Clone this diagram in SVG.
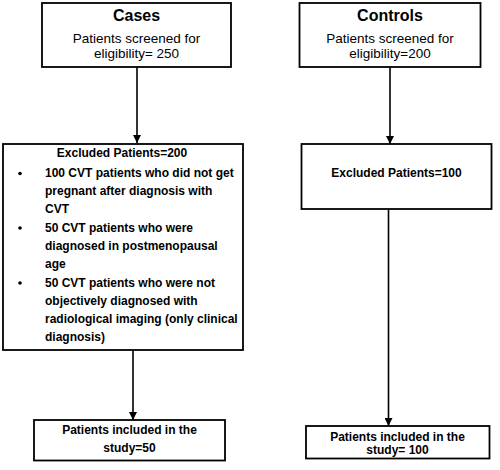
<svg xmlns="http://www.w3.org/2000/svg" width="500" height="470" viewBox="0 0 500 470">
<defs>
<style>
.box{fill:#fff;stroke:#000;stroke-width:1.8}
.t{font-family:"Liberation Sans",Arial,sans-serif;fill:#000}
.h{font-size:16px;font-weight:bold}
.r{font-size:13.5px}
.b{font-size:12px;font-weight:bold}
.c{text-anchor:middle}
.ln{stroke:#000;stroke-width:1.6;fill:none}
</style>
<marker id="ah" markerWidth="8" markerHeight="8" refX="8" refY="4" orient="auto" markerUnits="userSpaceOnUse">
<path d="M0,0 L8,4 L0,8 Z" fill="#000"/>
</marker>
</defs>
<g id="connectors">
<line class="ln" x1="137" y1="67" x2="137" y2="143" marker-end="url(#ah)"/>
<line class="ln" x1="390" y1="67" x2="390" y2="144" marker-end="url(#ah)"/>
<line class="ln" x1="133" y1="350" x2="133" y2="420" marker-end="url(#ah)"/>
<line class="ln" x1="388.5" y1="209" x2="388.5" y2="426" marker-end="url(#ah)"/>
</g>
<g id="cases">
<rect class="box" x="42" y="3" width="189" height="64"/>
<text class="t h c" x="136.5" y="21">Cases</text>
<text class="t r c" x="136.5" y="42.5">Patients screened for</text>
<text class="t r c" x="136.5" y="58">eligibility= 250</text>
</g>
<g id="controls">
<rect class="box" x="299.5" y="3" width="181" height="64"/>
<text class="t h c" x="390" y="21">Controls</text>
<text class="t r c" x="390" y="42.5">Patients screened for</text>
<text class="t r c" x="390" y="58">eligibility=200</text>
</g>
<g id="excluded-cases">
<rect class="box" x="3" y="144" width="240" height="206"/>
<text class="t b c" x="122" y="157">Excluded Patients=200</text>
<g fill="#000">
<circle cx="20" cy="173.5" r="1.8"/>
<circle cx="20" cy="228" r="1.8"/>
<circle cx="20" cy="283" r="1.8"/>
</g>
<text class="t b" x="45" y="177">100 CVT patients who did not get</text>
<text class="t b" x="45" y="195">pregnant after diagnosis with</text>
<text class="t b" x="45" y="213">CVT</text>
<text class="t b" x="45" y="231.5">50 CVT patients who were</text>
<text class="t b" x="45" y="250">diagnosed in postmenopausal</text>
<text class="t b" x="45" y="268">age</text>
<text class="t b" x="45" y="286.5">50 CVT patients who were not</text>
<text class="t b" x="45" y="305">objectively diagnosed with</text>
<text class="t b" x="45" y="323">radiological imaging (only clinical</text>
<text class="t b" x="45" y="341">diagnosis)</text>
</g>
<g id="excluded-controls">
<rect class="box" x="301.5" y="144" width="190" height="65"/>
<text class="t b c" x="396.5" y="177">Excluded Patients=100</text>
</g>
<g id="included-cases">
<rect class="box" x="34" y="420" width="191" height="40.5"/>
<text class="t b c" x="129.5" y="433.5">Patients included in the</text>
<text class="t b c" x="129.5" y="451.5">study=50</text>
</g>
<g id="included-controls">
<rect class="box" x="306" y="426" width="183.5" height="32.5"/>
<text class="t b c" x="397.5" y="441">Patients included in the</text>
<text class="t b c" x="397.5" y="453.5">study= 100</text>
</g>
</svg>
